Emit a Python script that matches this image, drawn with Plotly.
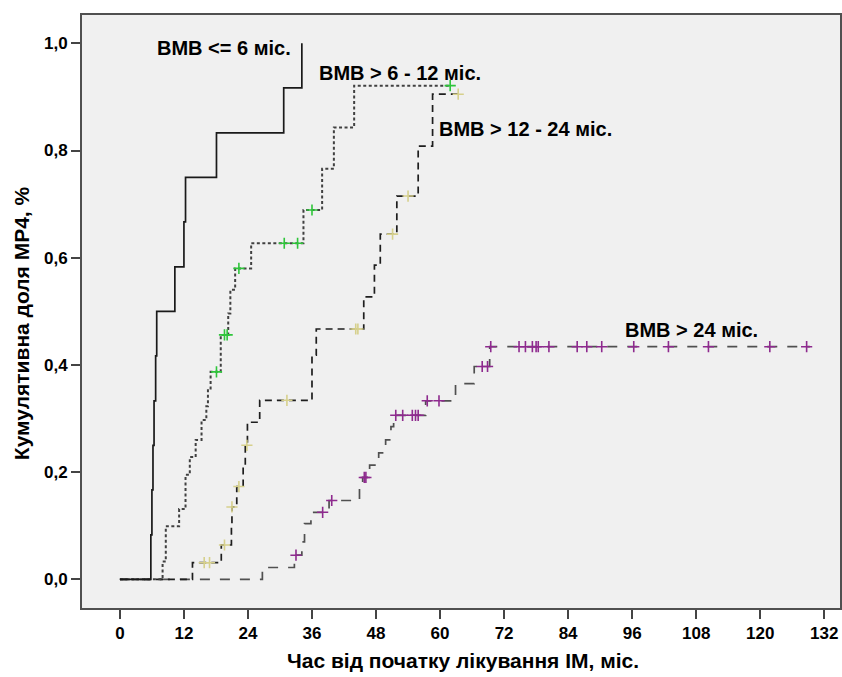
import numpy as np
import plotly.graph_objects as go

# ---------------- data ----------------
x_ticks = [0, 12, 24, 36, 48, 60, 72, 84, 96, 108, 120, 132]
y_ticks = [0.0, 0.2, 0.4, 0.6, 0.8, 1.0]

labels = ["BMB <= 6 міс.", "BMB > 6 - 12 міс.", "BMB > 12 - 24 міс.", "BMB > 24 міс."]

# group 1: BMB <= 6 міс.
g1_times = [0, 5.8, 6.0, 6.2, 6.4, 6.7, 6.9, 10.3, 12.0, 12.3, 18.1, 30.7, 34.1]
g1_cum = [0, 0.083, 0.167, 0.25, 0.333, 0.417, 0.5, 0.583, 0.667, 0.75, 0.833, 0.917, 1.0]
g1_end = 34.1
g1_censor = []

# group 2: BMB > 6 - 12 міс.
g2_times = [0, 8.0, 8.6, 11.1, 12.3, 13.1, 14.2, 15.3, 16.2, 16.5, 17.0, 18.9, 20.3,
            20.7, 21.6, 24.6, 34.4, 37.9, 40.1, 43.9]
g2_cum = [0, 0.033, 0.099, 0.131, 0.195, 0.228, 0.260, 0.297, 0.323, 0.356, 0.387, 0.456,
          0.496, 0.540, 0.580, 0.627, 0.689, 0.766, 0.843, 0.921]
g2_end = 61.9
g2_censor = [18.1, 19.6, 20.1, 22.3, 30.8, 33.3, 36.0, 61.9]

# group 3: BMB > 12 - 24 міс.
g3_times = [0, 13.6, 19.0, 20.9, 21.0, 21.9, 23.1, 23.5, 23.9, 26.2, 36.0, 36.8, 45.7,
            47.7, 48.8, 51.9, 55.9, 58.6]
g3_cum = [0, 0.031, 0.064, 0.100, 0.135, 0.173, 0.210, 0.250, 0.293, 0.334, 0.418,
          0.467, 0.527, 0.586, 0.644, 0.715, 0.808, 0.905]
g3_end = 63.4
g3_censor = [15.8, 16.8, 19.6, 21.0, 22.3, 23.8, 31.3, 44.2, 44.6, 51.1, 54.0, 63.4]

# group 4: BMB > 24 міс.
g4_times = [0, 26.7, 32.7, 34.1, 34.6, 35.8, 39.2, 44.9, 45.5, 46.8, 48.5, 49.8, 50.8,
            51.3, 57.3, 62.9, 66.4, 69.3]
g4_cum = [0, 0.022, 0.045, 0.070, 0.104, 0.125, 0.147, 0.172, 0.190, 0.213, 0.236,
          0.260, 0.285, 0.306, 0.333, 0.365, 0.397, 0.434]
g4_end = 129.3
g4_censor = [33.0, 38.0, 39.7, 45.8, 46.1, 51.7, 53.0, 54.8, 55.4, 55.9, 57.6, 59.8,
             67.9, 68.9, 69.5, 74.8, 76.0, 77.3, 78.0, 78.4, 80.4, 85.7, 87.5, 90.3,
             96.3, 102.8, 110.3, 121.8, 128.7]

# ---------------- styles ----------------
BOLD = "Liberation Sans, Arial, sans-serif"

groups = [
    (g4_times, g4_cum, g4_end, g4_censor, dict(color="#505050", width=1.7, dash="10px,10px"), "#8e2a8e"),
    (g3_times, g3_cum, g3_end, g3_censor, dict(color="#1e1e1e", width=1.7, dash="7px,5px"), "#d6d08c"),
    (g2_times, g2_cum, g2_end, g2_censor, dict(color="#404040", width=2, dash="3px,2.5px"), "#2ec53a"),
    (g1_times, g1_cum, g1_end, g1_censor, dict(color="#1a1a1a", width=1.7), "#000000"),
]
names = [labels[3], labels[2], labels[1], labels[0]]

fig = go.Figure()
for (t, c, end, cens, lstyle, mcol), nm in zip(groups, names):
    xs = list(t) + ([end] if end > t[-1] else [])
    ys = list(c) + ([c[-1]] if end > t[-1] else [])
    fig.add_trace(go.Scatter(x=xs, y=ys, mode="lines", line=dict(shape="hv", **lstyle),
                             name=nm, showlegend=False, hoverinfo="skip"))
    if cens:
        idx = np.searchsorted(np.array(t), np.array(cens), side="right") - 1
        cy = [c[i] for i in idx]
        fig.add_trace(go.Scatter(x=cens, y=cy, mode="markers", showlegend=False,
                                 marker=dict(symbol="cross-thin", size=8,
                                             line=dict(color=mcol, width=1.6)),
                                 hoverinfo="skip"))

W, H = 842, 677
L, R, T, B = 82, 0, 15, 69
pw, ph = W - L - R, H - T - B


def px_to_paper(px, py):
    return (px - L) / pw, (H - B - py) / ph


# curve labels (positions in pixels of the reference)
label_pos = [(155, 48), (318, 73), (438, 129), (624, 330)]
annotations = []
for txt, (px, py) in zip(labels, label_pos):
    ax, ay = px_to_paper(px, py)
    annotations.append(dict(text=txt, x=ax, y=ay, xref="paper", yref="paper",
                            xanchor="left", yanchor="middle", showarrow=False,
                            font=dict(family=BOLD, size=20, color="#000", weight="bold")))

# axis titles
ax, ay = px_to_paper(464, 660)
annotations.append(dict(text="Час від початку лікування ІМ, міс.", x=ax, y=ay,
                        xref="paper", yref="paper", xanchor="center", yanchor="middle",
                        showarrow=False,
                        font=dict(family=BOLD, size=21, color="#000", weight="bold")))
ax, ay = px_to_paper(21, 323)
annotations.append(dict(text="Кумулятивна доля МР4, %", x=ax, y=ay, textangle=-90,
                        xref="paper", yref="paper", xanchor="center", yanchor="middle",
                        showarrow=False,
                        font=dict(family=BOLD, size=21, color="#000", weight="bold")))

x0 = (L - 120) / 64.2 * 12
x1 = (W - 120) / 64.2 * 12
y0 = -(608 - 579.3) / 536
y1 = 1 + (43.3 - 15) / 536

fig.update_layout(
    width=W, height=H,
    margin=dict(l=L, r=R, t=T, b=B, pad=0),
    paper_bgcolor="white", plot_bgcolor="#f0f0f0",
    separators=",.",
    annotations=annotations,
    showlegend=False,
)
fig.update_xaxes(range=[x0, x1], tickvals=x_ticks, ticks="outside", ticklen=9, tickwidth=2,
                 tickcolor="#444", showline=True, linecolor="#505050", linewidth=2, mirror=True,
                 showgrid=False, zeroline=False,
                 tickfont=dict(family=BOLD, size=17, color="#000", weight="bold"))
fig.update_yaxes(range=[y0, y1], tickvals=y_ticks, tickformat=".1f", ticks="outside", ticklen=9,
                 tickwidth=2, tickcolor="#444", showline=True, linecolor="#505050", linewidth=2,
                 mirror=True, showgrid=False, zeroline=False,
                 tickfont=dict(family=BOLD, size=17, color="#000", weight="bold"))

fig.write_html("out.html")
